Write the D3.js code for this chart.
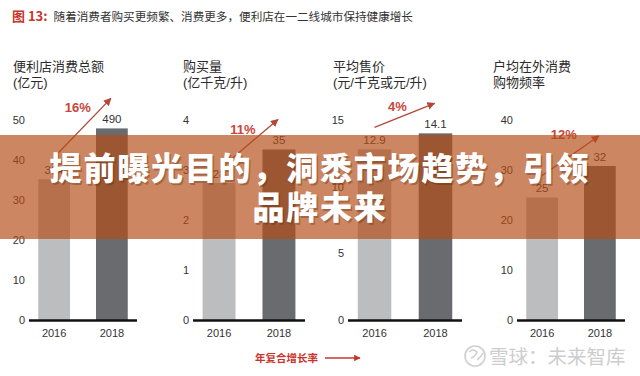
<!DOCTYPE html>
<html><head><meta charset="utf-8">
<script src="https://cdn.jsdelivr.net/npm/d3@7"></script>
<style>
html,body{margin:0;padding:0;background:#fff;}
svg{display:block;font-family:"Liberation Sans","Noto Sans CJK SC",sans-serif;}
</style></head>
<body>
<svg id="c" width="640" height="376"></svg>
<script>
// ---------- data ----------
const years = ["2016", "2018"];
const spendValues = [35.2, 47.9];        // 便利店消费总额 (axis units)
const spendLabels = ["364", "490"];
const volumeValues = [2.74, 3.41];       // 购买量
const volumeLabels = ["28", "35"];
const priceValues = [12.8, 14.0];        // 平均售价
const priceLabels = ["12.9", "14.1"];
const freqValues = [24.5, 30.8];         // 户均在外消费购物频率
const freqLabels = ["25", "32"];
const cagrLabels = ["16%", "11%", "4%", "12%"];
const spendTicks = [0, 10, 20, 30, 40, 50];
const volumeTicks = [0, 1, 2, 3, 4];
const priceTicks = [0, 5, 10, 15];
const freqTicks = [0, 10, 20, 30, 40];
const panelTitles = [
  ["便利店消费总额", "(亿元)"],
  ["购买量", "(亿千克/升)"],
  ["平均售价", "(元/千克或元/升)"],
  ["户均在外消费", "购物频率"]
];
const figTag = "图 13:";
const figTitle = "随着消费者购买更频繁、消费更多，便利店在一二线城市保持健康增长";
const bannerLines = ["提前曝光目的，洞悉市场趋势，引领", "品牌未来"];
const legendText = "年复合增长率";
const watermark = "雪球：未来智库";

// ---------- layout ----------
const panels = [
  {values: spendValues, labels: spendLabels, ticks: spendTicks, max: 50, x0: 29, w: 108, tx: 13, sdx: 0, lab: [-33, 9]},
  {values: volumeValues, labels: volumeLabels, ticks: volumeTicks, max: 4, x0: 193, w: 112, tx: 183, sdx: 10, lab: [-35, 9]},
  {values: priceValues, labels: priceLabels, ticks: priceTicks, max: 15, x0: 348, w: 114, tx: 333, sdx: 0, lab: [-37, 3]},
  {values: freqValues, labels: freqLabels, ticks: freqTicks, max: 40, x0: 517, w: 108, tx: 493, sdx: 0, lab: [-35, -2]}
];
const yBase = 320, yTop = 120;
const barColors = ["#bcbdbf", "#6a6b6f"];
const red = "#c9342c", arrowCol = "#b4473a";

const svg = d3.select("#c");
const defs = svg.append("defs");
defs.append("marker").attr("id", "ah").attr("viewBox", "0 0 10 10")
  .attr("refX", 9).attr("refY", 5).attr("markerWidth", 6).attr("markerHeight", 6)
  .attr("orient", "auto-start-reverse")
  .append("path").attr("d", "M0,0 L10,5 L0,10 z").attr("fill", arrowCol);
defs.append("marker").attr("id", "ah2").attr("viewBox", "0 0 10 10")
  .attr("refX", 9).attr("refY", 5).attr("markerWidth", 5).attr("markerHeight", 5)
  .attr("orient", "auto")
  .append("path").attr("d", "M0,0 L10,5 L0,10 z").attr("fill", red);

// title
const t = svg.append("text").attr("x", 12).attr("y", 21).attr("font-size", 12)
  .attr("font-family", "'Noto Sans CJK SC','Liberation Sans',sans-serif");
t.append("tspan").attr("fill", red).attr("font-weight", "bold").attr("font-size", 13).text(figTag);
t.append("tspan").attr("dx", 6).attr("fill", "#333").attr("font-size", 11.6).text(figTitle);

panels.forEach((p, i) => {
  const g = svg.append("g");
  // panel title
  panelTitles[i].forEach((line, k) => {
    g.append("text").attr("x", p.tx).attr("y", 71 + k * 16)
      .attr("font-size", 13).attr("fill", "#2b2b2b").text(line);
  });
  const x = d3.scaleBand().domain(years).range([p.x0, p.x0 + p.w])
    .paddingInner(0.45).paddingOuter(0.16);
  const y = d3.scaleLinear().domain([0, p.max]).range([yBase, yTop]);

  // y axis labels
  const ya = g.append("g").attr("transform", `translate(${p.x0},0)`)
    .call(d3.axisLeft(y).tickValues(p.ticks).tickSize(0).tickPadding(4).tickFormat(d3.format("d")));
  ya.select(".domain").remove();
  ya.selectAll("text").attr("font-size", 11).attr("fill", "#333")
    .attr("font-family", "'Liberation Sans',sans-serif");

  // bars
  g.selectAll("rect.bar").data(p.values).join("rect")
    .attr("x", (d, j) => x(years[j])).attr("width", x.bandwidth())
    .attr("y", d => y(d)).attr("height", d => yBase - y(d))
    .attr("fill", (d, j) => barColors[j]);

  // value labels
  g.selectAll("text.val").data(p.values).join("text")
    .attr("x", (d, j) => x(years[j]) + x.bandwidth() / 2)
    .attr("y", d => y(d) - 5.5)
    .attr("text-anchor", "middle").attr("font-size", 11.5).attr("fill", "#333")
    .text((d, j) => p.labels[j]);

  // x axis
  const xa = g.append("g").attr("transform", `translate(0,${yBase})`)
    .call(d3.axisBottom(x).tickSize(0).tickPadding(9));
  xa.select(".domain").remove();
  xa.selectAll("text").attr("font-size", 11).attr("fill", "#333")
    .attr("font-family", "'Liberation Sans',sans-serif");
  g.append("line").attr("x1", p.x0).attr("x2", p.x0 + p.w)
    .attr("y1", yBase + 0.5).attr("y2", yBase + 0.5)
    .attr("stroke", "#111").attr("stroke-width", 2.6);

  // CAGR arrow
  const c0 = x(years[0]) + x.bandwidth() / 2, c1 = x(years[1]) + x.bandwidth() / 2;
  const sx = c0 + p.sdx, sy = y(p.values[0]) - 22;
  const ex = c1 - 1, ey = y(p.values[1]) - 30;
  g.append("line").attr("x1", sx).attr("y1", sy).attr("x2", ex).attr("y2", ey)
    .attr("stroke", arrowCol).attr("stroke-width", 1.3).attr("marker-end", "url(#ah)");
  g.append("text").attr("x", ex + p.lab[0]).attr("y", ey + p.lab[1] + 5)
    .attr("text-anchor", "middle").attr("font-size", 13).attr("font-weight", "bold")
    .attr("fill", "#c8463a").text(cagrLabels[i]);
});

// banner overlay
svg.append("rect").attr("x", 0).attr("y", 135).attr("width", 640).attr("height", 104)
  .attr("fill", "rgb(180,76,22)").attr("fill-opacity", 0.68);
const bt = svg.append("g").attr("font-family", "'Noto Sans CJK SC',sans-serif")
  .attr("font-weight", 900).attr("font-size", 32).attr("text-anchor", "middle");
bannerLines.forEach((line, k) => {
  bt.append("text").attr("x", 321.5).attr("y", 181.5 + k * 39).attr("fill", "rgba(90,40,10,0.35)")
    .attr("letter-spacing", 1.8).text(line);
  bt.append("text").attr("x", 320).attr("y", 180 + k * 39).attr("fill", "#fff")
    .attr("letter-spacing", 1.8).text(line);
});

// legend
svg.append("text").attr("x", 255).attr("y", 362).attr("font-size", 10.5).attr("font-weight", "bold")
  .attr("fill", red).attr("font-family", "'Noto Sans CJK SC',sans-serif").text(legendText);
svg.append("line").attr("x1", 325).attr("x2", 360).attr("y1", 358).attr("y2", 358)
  .attr("stroke", red).attr("stroke-width", 1.3).attr("marker-end", "url(#ah2)");

// watermark
const wm = svg.append("g").attr("opacity", 1);
wm.append("circle").attr("cx", 475).attr("cy", 356).attr("r", 10)
  .attr("fill", "none").attr("stroke", "#cfcfcf").attr("stroke-width", 1.6);
wm.append("path").attr("d", "M469,352 q4,-4 8,0 q-2,5 -6,6 M477,360 q4,-3 6,-7")
  .attr("fill", "none").attr("stroke", "#cfcfcf").attr("stroke-width", 1.6);
wm.append("text").attr("x", 489).attr("y", 364).attr("font-size", 19.5)
  .attr("fill", "#cdcdcd").attr("font-family", "'Noto Sans CJK SC',sans-serif").text(watermark);
</script>
</body></html>
